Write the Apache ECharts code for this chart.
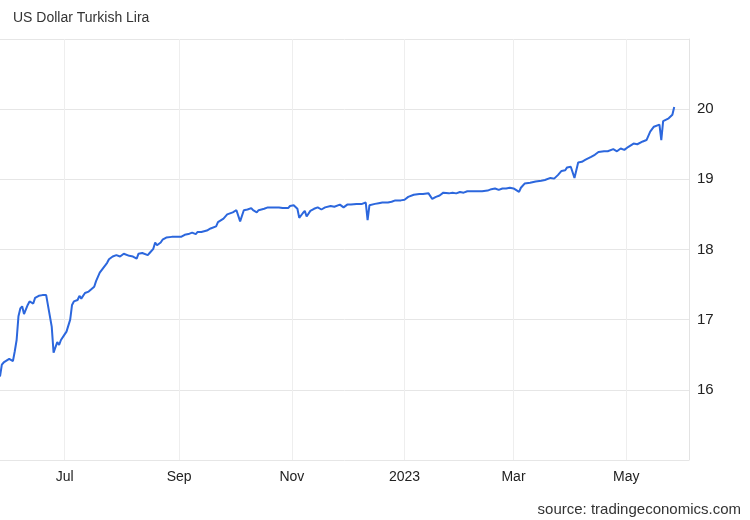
<!DOCTYPE html>
<html>
<head>
<meta charset="utf-8">
<script src="https://cdn.jsdelivr.net/npm/echarts@6/dist/echarts.min.js"></script>
<style>
html,body{margin:0;padding:0;background:#fff;}
#chart{width:750px;height:520px;}
</style>
</head>
<body>
<div id="chart"></div>
<script>
var chartTitle = 'US Dollar Turkish Lira';
var sourceText = 'source: tradingeconomics.com';
var monthNames = ['Jan','Feb','Mar','Apr','May','Jun','Jul','Aug','Sep','Oct','Nov','Dec'];
var yTicks = [15, 16, 17, 18, 19, 20, 21];

var dates = [
'2022-05-27','2022-05-28','2022-05-29','2022-05-30','2022-06-01','2022-06-03','2022-06-04','2022-06-05','2022-06-06','2022-06-07',
'2022-06-08','2022-06-09','2022-06-11','2022-06-12','2022-06-13','2022-06-14','2022-06-15','2022-06-17','2022-06-19','2022-06-21',
'2022-06-22','2022-06-24','2022-06-25','2022-06-27','2022-06-28','2022-06-29','2022-07-01','2022-07-02','2022-07-04','2022-07-05',
'2022-07-06','2022-07-08','2022-07-09','2022-07-10','2022-07-12','2022-07-14','2022-07-15','2022-07-17','2022-07-18','2022-07-20',
'2022-07-24','2022-07-25','2022-07-27','2022-07-29','2022-07-31','2022-08-02','2022-08-03','2022-08-05','2022-08-07','2022-08-09',
'2022-08-10','2022-08-12','2022-08-13','2022-08-15','2022-08-16','2022-08-18','2022-08-19','2022-08-20','2022-08-22','2022-08-23',
'2022-08-25','2022-08-26','2022-08-28','2022-08-30','2022-08-31','2022-09-02','2022-09-04','2022-09-06','2022-09-08','2022-09-10',
'2022-09-11','2022-09-13','2022-09-14','2022-09-16','2022-09-18','2022-09-19','2022-09-21','2022-09-22','2022-09-23','2022-09-25',
'2022-09-27','2022-09-28','2022-09-30','2022-10-02','2022-10-03','2022-10-04','2022-10-06','2022-10-08','2022-10-10','2022-10-11',
'2022-10-13','2022-10-14','2022-10-17','2022-10-19','2022-10-22','2022-10-25','2022-10-27','2022-10-30','2022-10-31','2022-11-02',
'2022-11-04','2022-11-05','2022-11-07','2022-11-08','2022-11-09','2022-11-11','2022-11-13','2022-11-15','2022-11-17','2022-11-19',
'2022-11-22','2022-11-24','2022-11-27','2022-11-29','2022-12-01','2022-12-03','2022-12-06','2022-12-09','2022-12-11','2022-12-12',
'2022-12-13','2022-12-16','2022-12-18','2022-12-20','2022-12-21','2022-12-23','2022-12-25','2022-12-27','2022-12-28','2022-12-30',
'2023-01-01','2023-01-03','2023-01-06','2023-01-09','2023-01-11','2023-01-14','2023-01-15','2023-01-16','2023-01-18','2023-01-20',
'2023-01-22','2023-01-23','2023-01-25','2023-01-27','2023-01-29','2023-01-31','2023-02-02','2023-02-04','2023-02-06','2023-02-09',
'2023-02-12','2023-02-15','2023-02-17','2023-02-19','2023-02-21','2023-02-23','2023-02-25','2023-02-27','2023-03-01','2023-03-02',
'2023-03-04','2023-03-05','2023-03-07','2023-03-10','2023-03-13','2023-03-16','2023-03-18','2023-03-19','2023-03-21','2023-03-23',
'2023-03-25','2023-03-27','2023-03-29','2023-03-30','2023-04-01','2023-04-03','2023-04-05','2023-04-07','2023-04-09','2023-04-12',
'2023-04-14','2023-04-16','2023-04-19','2023-04-21','2023-04-22','2023-04-24','2023-04-26','2023-04-28','2023-04-30','2023-05-02',
'2023-05-05','2023-05-07','2023-05-10','2023-05-12','2023-05-14','2023-05-16','2023-05-19','2023-05-20','2023-05-21','2023-05-24',
'2023-05-26','2023-05-27'
];

var usdTry = [
16.19,16.36,16.39,16.39,16.44,16.41,16.55,16.71,17.05,17.16,
17.19,17.08,17.21,17.26,17.25,17.23,17.31,17.34,17.35,17.35,
17.36,16.90,16.53,16.68,16.64,16.71,16.79,16.83,17.00,17.21,
17.26,17.28,17.34,17.30,17.38,17.40,17.40,17.47,17.55,17.67,
17.81,17.86,17.90,17.92,17.90,17.94,17.92,17.91,17.90,17.87,
17.94,17.95,17.96,17.92,17.95,18.01,18.10,18.06,18.10,18.14,
18.17,18.15,18.18,18.18,18.20,18.18,18.21,18.22,18.24,18.22,
18.25,18.25,18.27,18.27,18.30,18.31,18.33,18.39,18.41,18.44,
18.50,18.51,18.53,18.56,18.58,18.40,18.56,18.57,18.59,18.56,
18.53,18.56,18.58,18.60,18.60,18.60,18.59,18.59,18.62,18.63,
18.58,18.45,18.52,18.55,18.47,18.55,18.58,18.60,18.57,18.60,
18.62,18.61,18.64,18.60,18.64,18.64,18.65,18.65,18.67,18.42,
18.63,18.65,18.66,18.67,18.69,18.67,18.68,18.70,18.72,18.70,
18.71,18.75,18.78,18.79,18.79,18.80,18.81,18.72,18.75,18.77,
18.81,18.83,18.80,18.81,18.80,18.82,18.81,18.83,18.83,18.83,
18.83,18.84,18.86,18.87,18.85,18.87,18.87,18.88,18.87,18.86,
18.82,18.88,18.94,18.95,18.97,18.98,18.99,19.01,19.02,19.01,
19.06,19.12,19.13,19.17,19.18,19.02,19.24,19.25,19.28,19.32,
19.35,19.39,19.40,19.40,19.38,19.43,19.40,19.44,19.42,19.46,
19.51,19.50,19.54,19.56,19.68,19.75,19.78,19.56,19.83,19.87,
19.92,20.03
];

var xStart = '2022-05-27';
var xEnd = '2023-06-04';

var seriesData = dates.map(function (d, i) { return [d, usdTry[i]]; });

var chart = echarts.init(document.getElementById('chart'), null, {renderer: 'canvas'});
var FONT = 'Liberation Sans, Arial, sans-serif';
chart.setOption({
  animation: false,
  backgroundColor: '#ffffff',
  title: [{
    text: chartTitle,
    left: 8, top: 6,
    textStyle: {fontFamily: FONT, fontSize: 14, fontWeight: 'normal', color: '#333333'}
  }, {
    text: sourceText,
    right: 4, top: 497,
    textStyle: {fontFamily: FONT, fontSize: 15, fontWeight: 'normal', color: '#333333'}
  }],
  grid: {left: 0, right: 61, top: 39, bottom: 60, containLabel: false},
  xAxis: {
    type: 'time',
    min: xStart,
    max: xEnd,
    splitNumber: 6,
    axisLine: {show: false},
    axisTick: {show: false},
    splitLine: {show: true, showMinLine: false, showMaxLine: false, lineStyle: {color: '#eeeeee', width: 1}},
    axisLabel: {
      fontFamily: FONT, fontSize: 14, color: '#222222', margin: 10,
      showMinLabel: false, showMaxLabel: false,
      formatter: function (val) {
        var d = new Date(val);
        return d.getMonth() === 0 ? String(d.getFullYear()) : monthNames[d.getMonth()];
      },
      rich: {}
    }
  },
  yAxis: {
    type: 'value',
    position: 'right',
    min: yTicks[0],
    max: yTicks[yTicks.length - 1],
    interval: 1,
    axisLine: {show: true, lineStyle: {color: '#e3e3e3'}},
    axisTick: {show: false},
    splitLine: {show: true, lineStyle: {color: '#e6e6e6', width: 1}},
    axisLabel: {
      fontFamily: FONT, fontSize: 15, color: '#222222', margin: 8,
      showMinLabel: false, showMaxLabel: false
    }
  },
  series: [{
    type: 'line',
    data: seriesData,
    showSymbol: false,
    symbol: 'none',
    lineStyle: {color: '#2c67dd', width: 2},
    clip: true
  }]
});
</script>
</body>
</html>
